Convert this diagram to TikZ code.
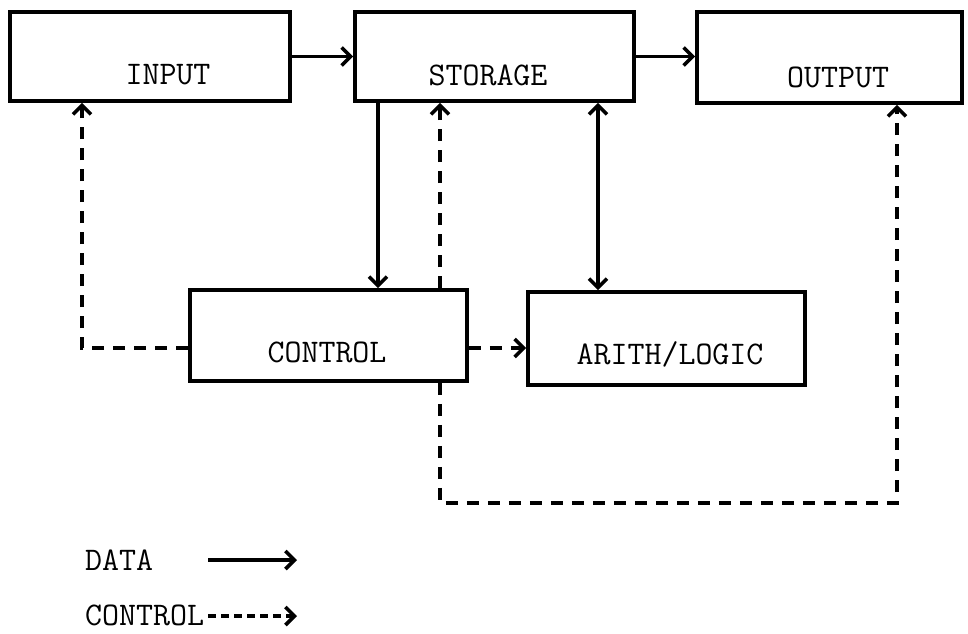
\documentclass[tikz,border=0pt]{standalone}
\usepackage{fontspec}
\usetikzlibrary{arrows.meta}
\begin{document}
\begin{tikzpicture}[x=1pt,y=-1pt]
\tikzset{
 box/.style={draw, line width=3.6pt, inner sep=0pt},
 lbl/.style={font=\ttfamily\fontsize{33}{36}\selectfont, inner sep=0pt},
 data/.style={line width=3.6pt, -{Straight Barb[length=9pt,width=18pt]}},
 ctrl/.style={data, dash pattern=on 12pt off 9pt},
 lctrlline/.style={data, dash pattern=on 8pt off 5pt},
}
\useasboundingbox (0,0) rectangle (968,633);
\fill[white] (0,0) rectangle (968,633);

% boxes
\node[box,minimum width=280pt,minimum height=89pt] (input) at (150,56.5) {};
\node[box,minimum width=279pt,minimum height=89pt] (storage) at (494.5,56.5) {};
\node[box,minimum width=265pt,minimum height=91pt] (output) at (829.5,57.5) {};
\node[box,minimum width=277pt,minimum height=91pt] (control) at (328.5,335.5) {};
\node[box,minimum width=277pt,minimum height=93pt] (arith) at (666.5,338.5) {};

% labels
\node[lbl,anchor=base] (inputl) at (168,84) {INPUT};
\node[lbl,anchor=base] (storagel) at (488,85) {STORAGE};
\node[lbl,anchor=base] (outputl) at (838,87) {OUTPUT};
\node[lbl,anchor=base] (controll) at (327,362) {CONTROL};
\node[lbl,anchor=base] (arithl) at (670,364) {ARITH/LOGIC};

% helper coordinates
\coordinate (xa) at (378,0);
\coordinate (xb) at (440,0);
\coordinate (xc) at (598,0);
\coordinate (xd) at (82,0);
\coordinate (xe) at (897,0);
\coordinate (yr) at (0,348);
\coordinate (yb) at (0,503);

% data connectors
\draw[data] (input.east) -- (input.east -| storage.west);
\draw[data] (storage.east) -- (storage.east -| output.west);
\draw[data] (storage.south -| xa) -- (control.north -| xa);
\draw[data,{Straight Barb[length=9pt,width=18pt]}-{Straight Barb[length=9pt,width=18pt]}] (storage.south -| xc) -- (arith.north -| xc);

% control connectors
\draw[ctrl] (control.north -| xb) -- (storage.south -| xb);
\draw[ctrl] (control.west |- yr) -- (xd |- yr) -- (xd |- input.south);
\draw[ctrl] (control.east |- yr) -- (arith.west |- yr);
\draw[ctrl] (control.south -| xb) -- (xb |- yb) -- (xe |- yb) -- (xe |- output.south);

% legend
\node[lbl,anchor=base west] (ldata) at (85,570) {DATA};
\node[lbl,anchor=base west] (lctrl) at (85,625) {CONTROL};
\coordinate (ld1) at (208,560);
\coordinate (ld2) at (297,560);
\coordinate (lc1) at (208,616);
\coordinate (lc2) at (297,616);
\draw[data] (ld1) -- (ld2);
\draw[lctrlline] (lc1) -- (lc2);
\end{tikzpicture}
\end{document}
